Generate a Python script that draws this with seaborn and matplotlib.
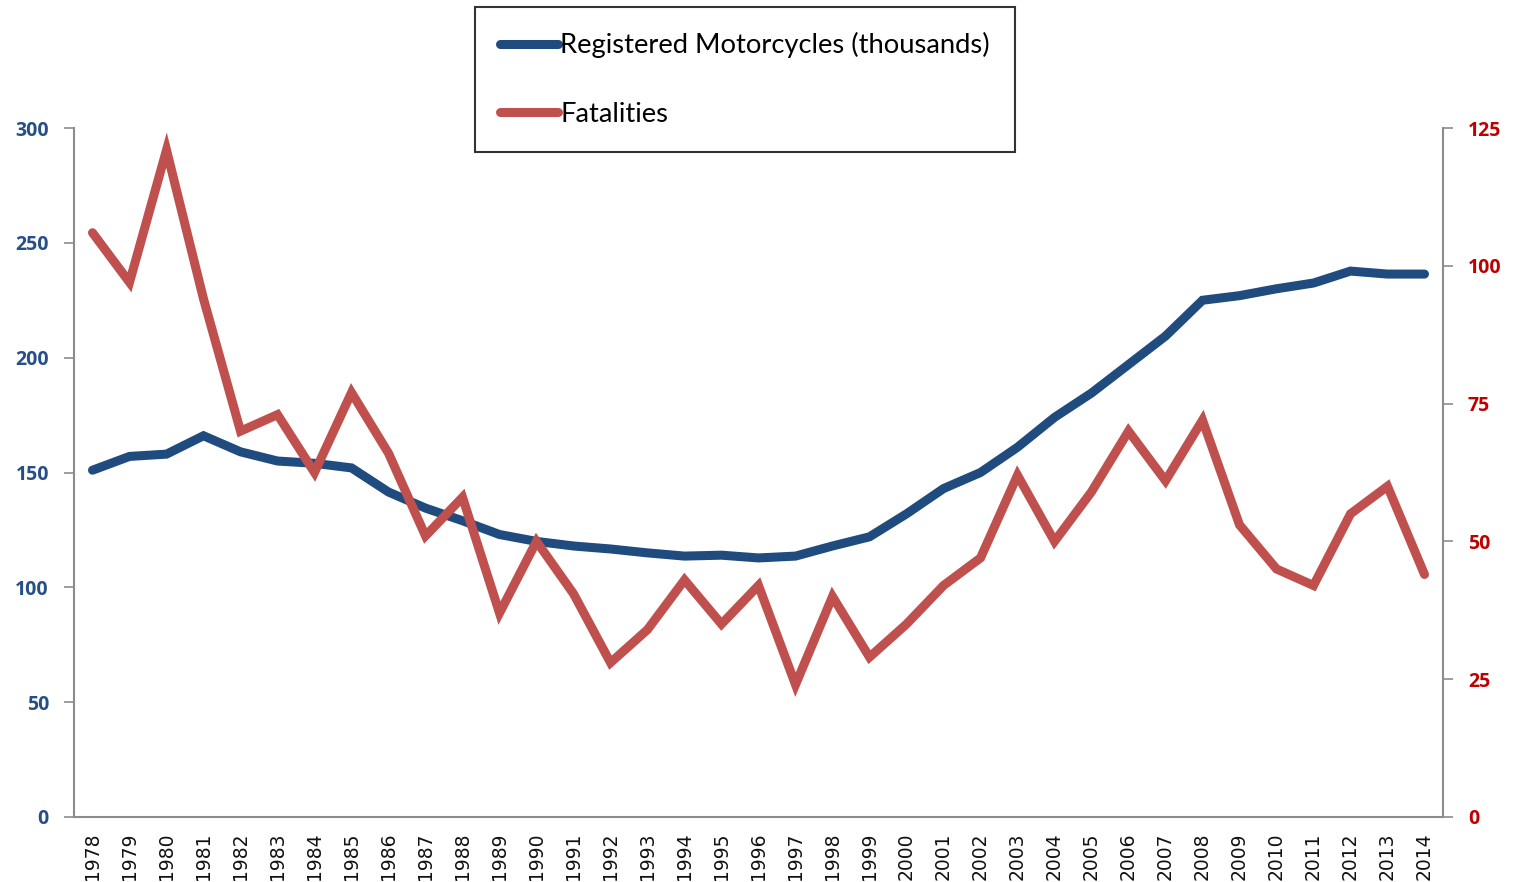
import matplotlib
matplotlib.use("Agg")
import matplotlib.pyplot as plt
import seaborn as sns
import numpy as np
import pandas as pd

years = [str(y) for y in range(1978, 2015)]
motorcycles = [151, 157, 158, 166, 159, 155, 154, 152, 141.5, 134.5, 129, 123, 120, 118,
               116.7, 115, 113.6, 114, 112.8, 113.6, 118, 122, 132, 143, 150, 161, 174,
               184.6, 197, 209.4, 225, 227, 230, 232.5, 237.7, 236.4, 236.4]
fatalities = [106, 97, 121, 94, 70, 73, 62.5, 77, 66, 51, 58, 37, 50, 40.5, 28, 34, 43, 35,
              42, 24, 40, 29, 35, 42, 47, 62, 50, 59, 70, 61, 72, 53, 45, 42, 55, 60, 44]
left_ticks = [0, 50, 100, 150, 200, 250, 300]
right_ticks = [0, 25, 50, 75, 100, 125]

BLUE = "#1F4B7E"
RED = "#C0504D"
BLUE_TXT = "#254F86"
RED_TXT = "#C00000"
GRAY = "#8C8C8C"

sns.set_style("white")
plt.rcParams['font.family'] = ['Open Sans', 'DejaVu Sans']

df = pd.DataFrame({"pos": np.arange(len(years)), "year": years,
                   "moto": motorcycles, "fat": fatalities})

fig = plt.figure(figsize=(15.13, 8.82), dpi=100)
ax = fig.add_axes([74/1513, 1-817/882, (1443-74)/1513, (817-128)/882])
ax2 = ax.twinx()

sns.lineplot(data=df, x="pos", y="moto", ax=ax, color=BLUE, linewidth=6.5,
             solid_capstyle="round", solid_joinstyle="miter",
             label="Registered Motorcycles (thousands)", legend=False)
sns.lineplot(data=df, x="pos", y="fat", ax=ax2, color=RED, linewidth=6.5,
             solid_capstyle="round", solid_joinstyle="miter",
             label="Fatalities", legend=False)

ax.set_xlim(-0.5, len(years) - 0.5)
ax.set_ylim(0, 300)
ax2.set_ylim(0, 125)
ax.set_yticks(left_ticks)
ax2.set_yticks(right_ticks)
ax.set_xticks(np.arange(len(years)))
ax.set_xticklabels(years, rotation=90, fontsize=13.5, color="#111111",
                   family=["DejaVu Sans"])
ax.set_xticks(np.arange(-0.5, len(years)), minor=True)
ax.tick_params(axis="x", which="major", length=0, pad=11)
ax.tick_params(axis="x", which="minor", length=7, width=1.2, color=GRAY, direction="out")
ax.tick_params(axis="y", length=7, width=1.2, color=GRAY, direction="out", left=True, pad=11)
ax2.tick_params(axis="y", length=7, width=1.2, color=GRAY, direction="out", right=True, pad=11)

for lab in ax.get_yticklabels():
    lab.set_color(BLUE_TXT); lab.set_fontweight("bold"); lab.set_fontsize(14)
for lab in ax2.get_yticklabels():
    lab.set_color(RED_TXT); lab.set_fontweight("bold"); lab.set_fontsize(14)

for a in (ax, ax2):
    a.set_xlabel(""); a.set_ylabel("")
    a.spines["top"].set_visible(False)
    for side in ("left", "right", "bottom"):
        a.spines[side].set_color(GRAY)
        a.spines[side].set_linewidth(1.5)
ax.spines["right"].set_visible(False)
ax2.spines["left"].set_visible(False)
ax2.spines["bottom"].set_visible(False)

h1, l1 = ax.get_legend_handles_labels()
h2, l2 = ax2.get_legend_handles_labels()
leg = fig.legend(h1 + h2, l1 + l2, loc="upper left",
                 bbox_to_anchor=(475/1513, 1-7/882), bbox_transform=fig.transFigure,
                 prop={"family": ["Lato", "DejaVu Sans"], "size": 19.7},
                 frameon=True, fancybox=False, edgecolor="black",
                 handlelength=2.1, handletextpad=0.1, labelspacing=1.6,
                 borderpad=0.92, borderaxespad=0)
leg.get_frame().set_linewidth(1.5)
for t in leg.get_texts():
    t.set_color("black")

fig.savefig("out.png", dpi=100)
